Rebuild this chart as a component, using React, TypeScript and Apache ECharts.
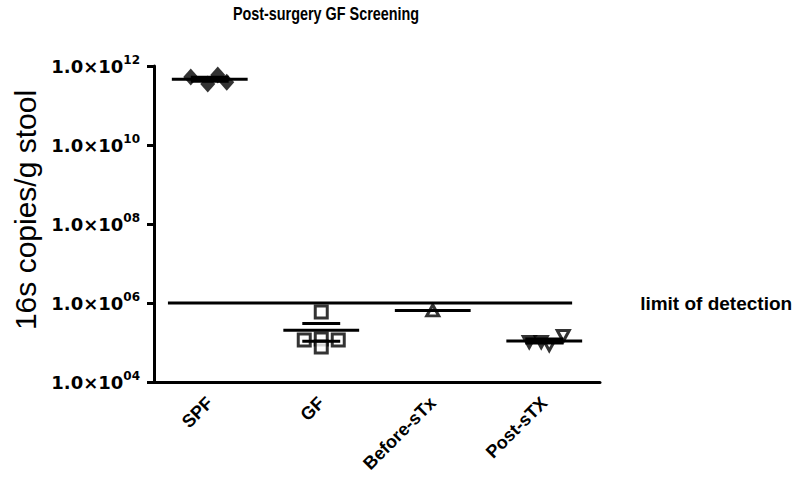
import React, { useEffect, useRef } from 'react';
import * as echarts from 'echarts';

// ---- data ----
const categories = ['SPF', 'GF', 'Before-sTx', 'Post-sTX'];
const spfValues = [5.3e11, 5.9e11, 3.5e11, 3.9e11];
const gfValues = [5.9e5, 1.15e5, 1.23e5, 1.15e5, 7.7e4];
const beforeValues = [6.5e5];
const postValues = [1.46e5, 1.03e5, 1.03e5, 8.6e4];
const yMin = 1e4;
const yMax = 1e12;
const limitOfDetection = 1e6;
const lodStart = -0.375; // in category units
const lodEnd = 3.25;
const chartTitle = 'Post-surgery GF Screening';
const yAxisTitle = '16s copies/g stool';
const lodLabel = 'limit of detection';

// ---- styling (horizontal spread of dots, px) ----
const spfJitter = [-19, 8, -2, 17];
const gfJitter = [0, -17, 0, 17, 0];
const beforeJitter = [0];
const postJitter = [19, -15, -3, 5];

const FONT = 'Liberation Sans, Arial, sans-serif';

function stats(arr: number[]) {
  const n = arr.length;
  const mean = arr.reduce((a, b) => a + b, 0) / n;
  if (n < 2) return { mean, sem: 0 };
  const sd = Math.sqrt(arr.reduce((a, b) => a + (b - mean) * (b - mean), 0) / (n - 1));
  return { mean, sem: sd / Math.sqrt(n) };
}

const groups = [
  { values: spfValues, jitter: spfJitter, symbol: 'diamond', size: [15, 17], filled: true, rotate: 0 },
  { values: gfValues, jitter: gfJitter, symbol: 'rect', size: [12, 12], filled: false, rotate: 0 },
  { values: beforeValues, jitter: beforeJitter, symbol: 'triangle', size: [12, 11], filled: false, rotate: 0 },
  { values: postValues, jitter: postJitter, symbol: 'triangle', size: [12, 11], filled: false, rotate: 180 },
];

export default function App() {
  const ref = useRef<HTMLDivElement>(null);
  useEffect(() => {
    document.body.style.margin = '0';
    if (!ref.current) return;
    const chart = echarts.init(ref.current, null, { renderer: 'svg' });

    const scatterSeries = groups.map((g, gi) => ({
      type: 'scatter',
      xAxisIndex: 0,
      yAxisIndex: 0,
      z: 2,
      symbol: g.symbol,
      symbolSize: g.size,
      symbolRotate: g.rotate,
      itemStyle: g.filled
        ? { color: '#000' }
        : { color: '#fff', borderColor: '#000', borderWidth: 3 },
      data: g.values.map((v, i) => ({ value: [gi, v], symbolOffset: [g.jitter[i], 0] })),
    }));

    const meanData = groups.map((g, gi) => {
      const s = stats(g.values);
      return [gi, s.mean, s.mean - s.sem, s.mean + s.sem];
    });

    const meanSeries = {
      type: 'custom',
      xAxisIndex: 0,
      yAxisIndex: 0,
      z: 3,
      encode: { x: 0, y: 1 },
      data: meanData,
      renderItem: (params: any, api: any) => {
        const x = api.value(0);
        const m = api.value(1);
        const lo = api.value(2);
        const hi = api.value(3);
        const bw = api.size([1, 0])[0];
        const c = api.coord([x, m]);
        const children: any[] = [
          {
            type: 'line',
            shape: { x1: c[0] - bw * 0.34, y1: c[1], x2: c[0] + bw * 0.34, y2: c[1] },
            style: { stroke: '#000', lineWidth: 3 },
          },
        ];
        if (hi > lo) {
          [hi, lo].forEach((v) => {
            const p = api.coord([x, v]);
            children.push({
              type: 'line',
              shape: { x1: p[0] - bw * 0.17, y1: p[1], x2: p[0] + bw * 0.17, y2: p[1] },
              style: { stroke: '#000', lineWidth: 3 },
            });
          });
        }
        return { type: 'group', children };
      },
    };

    const lodSeries = {
      type: 'line',
      xAxisIndex: 1,
      yAxisIndex: 0,
      z: 1,
      symbol: 'none',
      lineStyle: { color: '#000', width: 3 },
      data: [
        [lodStart, limitOfDetection],
        [lodEnd, limitOfDetection],
      ],
      endLabel: {
        show: true,
        formatter: lodLabel,
        distance: 68,
        color: '#000',
        fontFamily: FONT,
        fontWeight: 'bold',
        fontSize: 19,
      },
    };

    const pad = (n: number) => (n < 10 ? '0' + n : '' + n);

    chart.setOption({
      animation: false,
      backgroundColor: '#fff',
      graphic: [
        {
          type: 'text',
          x: 326,
          y: 13,
          scaleX: 0.8,
          style: {
            text: chartTitle,
            align: 'center',
            verticalAlign: 'middle',
            fontFamily: FONT,
            fontWeight: 'bold',
            fontSize: 18,
            fill: '#000',
          },
        },
      ],
      grid: { left: 154, right: 200, top: 66, bottom: 118 },
      xAxis: [
        {
          type: 'category',
          data: categories,
          boundaryGap: true,
          axisLine: { onZero: false, lineStyle: { color: '#000', width: 3 } },
          axisTick: { alignWithLabel: true, length: 7, lineStyle: { color: '#000', width: 3 } },
          axisLabel: {
            rotate: 45,
            margin: 18,
            color: '#000',
            fontFamily: FONT,
            fontWeight: 'bold',
            fontSize: 18,
          },
          splitLine: { show: false },
        },
        { type: 'value', min: -0.5, max: 3.5, show: false },
      ],
      yAxis: {
        type: 'log',
        logBase: 10,
        min: yMin,
        max: yMax,
        interval: 2,
        name: yAxisTitle,
        nameLocation: 'middle',
        nameRotate: 90,
        nameGap: 106,
        nameTextStyle: { fontFamily: FONT, fontSize: 30, color: '#000', padding: [0, 0, 0, 28] },
        axisLine: { show: true, onZero: false, lineStyle: { color: '#000', width: 3 } },
        axisTick: { show: true, length: 7, lineStyle: { color: '#000', width: 3 } },
        splitLine: { show: false },
        minorTick: { show: false },
        axisLabel: {
          margin: 14,
          formatter: (v: number) => `{b|1.0×10}{e|${pad(Math.round(Math.log10(v)))}}`,
          rich: {
            b: { fontFamily: 'DejaVu Sans', fontWeight: 'bold', fontSize: 18, lineHeight: 24, color: '#000' },
            e: { fontFamily: 'DejaVu Sans', fontWeight: 'bold', fontSize: 12, lineHeight: 12, verticalAlign: 'top', color: '#000' },
          },
        },
      },
      series: [lodSeries, ...scatterSeries, meanSeries],
    });
    return () => chart.dispose();
  }, []);
  return <div ref={ref} style={{ width: 800, height: 500 }} />;
}
